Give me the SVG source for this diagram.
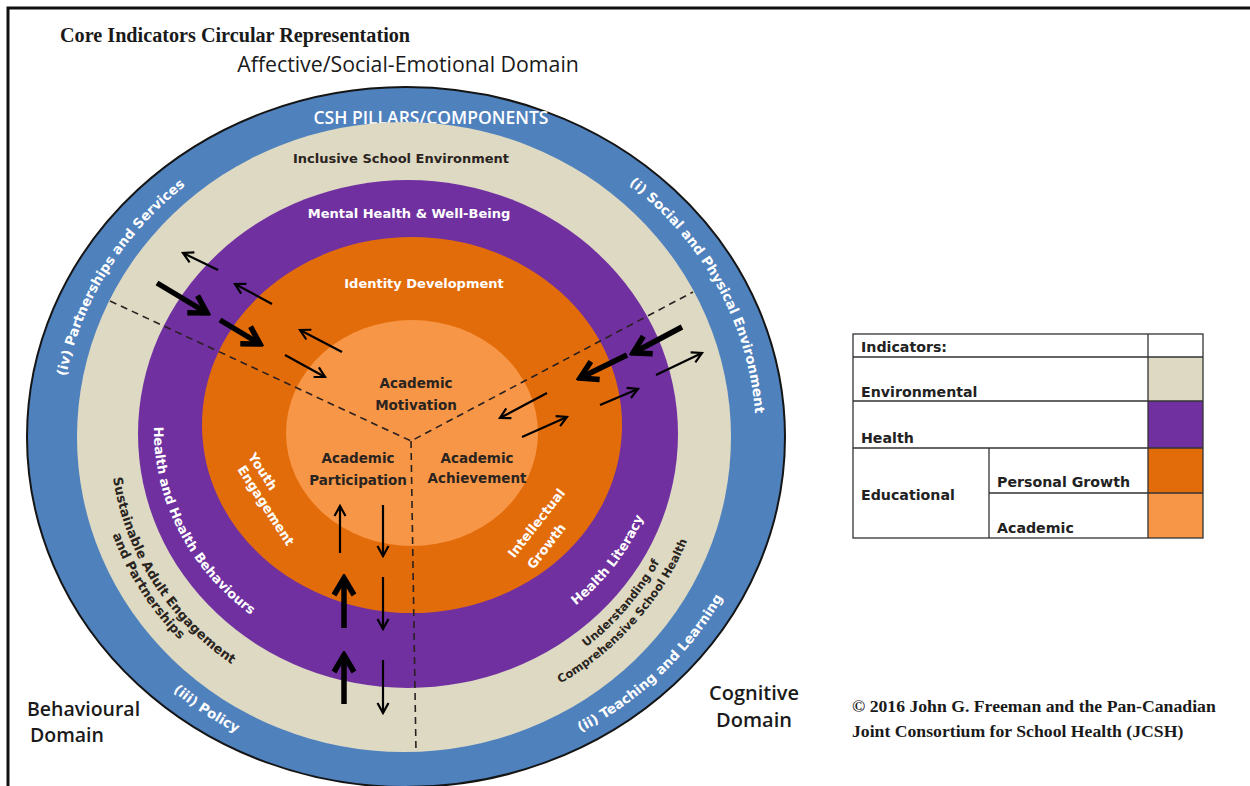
<svg xmlns="http://www.w3.org/2000/svg" width="1250" height="786" viewBox="0 0 1250 786">
<style>
.g{font-family:"DejaVu Sans","Open Sans",sans-serif;font-weight:700}
.w{fill:#fff}
.d{fill:#2a2420}
.t{font-family:"Liberation Serif","Times New Roman",serif;font-weight:700;fill:#1a1a1a}
.o{font-family:"Open Sans","DejaVu Sans",sans-serif;fill:#1a1a1a}
.dash{fill:none;stroke:#2a2020;stroke-width:1.6;stroke-dasharray:7 5}
.thin{fill:none;stroke:#000;stroke-width:2.2;marker-end:url(#ah)}
.thick{fill:none;stroke:#000;stroke-width:5.5;marker-end:url(#ahb)}
.lg{font-family:"DejaVu Sans","Open Sans",sans-serif;font-weight:700;font-size:14.2px;fill:#222}
</style>
<defs>
<marker id="ah" viewBox="0 0 14 14" refX="12" refY="7" markerWidth="14" markerHeight="14" orient="auto" markerUnits="userSpaceOnUse"><path d="M2,1.5 L12,7 L2,12.5" fill="none" stroke="#000" stroke-width="2.2"/></marker>
<marker id="ahb" viewBox="0 0 26 26" refX="22" refY="13" markerWidth="26" markerHeight="26" orient="auto" markerUnits="userSpaceOnUse"><path d="M5,3 L22,13 L5,23" fill="none" stroke="#000" stroke-width="5.5"/></marker>
<path id="pIV" d="M65.3,493.8 A348,327 0 0,1 289.0,129.7"/>
<path id="pI" d="M544.0,136.0 A348,327 0 0,1 747.1,510.6"/>
<path id="pIII" d="M114.7,630.3 A358,337 0 0,0 315.3,762.5"/>
<path id="pII" d="M500.7,762.5 A358,337 0 0,0 755.4,518.5"/>
<path id="pU1" d="M508.5,689.9 A286,272 0 0,0 688.5,478.5"/>
<path id="pU2" d="M484.2,714.2 A303,289 0 0,0 706.9,461.1"/>
<path id="pS1" d="M111.1,411.4 A294,280 0 0,0 290.4,695.6"/>
<path id="pS2" d="M96.2,410.1 A310,296 0 0,0 284.5,709.4"/>
<path id="pHB" d="M162.7,368.9 A256,236 0 0,0 301.8,643.9"/>
<path id="pHL" d="M516.5,641.2 A252,233 0 0,0 661.0,450.3"/>
</defs>
<rect width="1250" height="786" fill="#fff"/>
<path d="M8,786 V8 H1250" fill="none" stroke="#111" stroke-width="3"/>
<text x="60" y="42" class="t" font-size="20.2">Core Indicators Circular Representation</text>
<text x="408" y="72" class="o" font-size="21.3" text-anchor="middle">Affective/Social-Emotional Domain</text>

<g id="ring-pillars">
<ellipse cx="406" cy="437" rx="379" ry="350" fill="#4f81bd" stroke="#151515" stroke-width="2"/>
<text x="431" y="124" font-family="Open Sans,DejaVu Sans,sans-serif" font-weight="600" class="w" font-size="17.5" text-anchor="middle">CSH PILLARS/COMPONENTS</text>
<text class="g w" font-size="13.5"><textPath href="#pIV" startOffset="50%" text-anchor="middle">(iv) Partnerships and Services</textPath></text>
<text class="g w" font-size="13.5"><textPath href="#pI" startOffset="50%" text-anchor="middle">(i) Social and Physical Environment</textPath></text>
<text class="g w" font-size="13.5"><textPath href="#pIII" startOffset="50%" text-anchor="middle">(iii) Policy</textPath></text>
<text class="g w" font-size="13.5"><textPath href="#pII" startOffset="50%" text-anchor="middle">(ii) Teaching and Learning</textPath></text>
</g>
<g id="ring-environmental">
<ellipse cx="404" cy="437" rx="327" ry="315" fill="#ddd9c3"/>
<text x="401" y="163" class="g d" font-size="13" text-anchor="middle">Inclusive School Environment</text>
<text class="g d" font-size="11.5"><textPath href="#pU1" startOffset="50%" text-anchor="middle">Understanding of</textPath></text>
<text class="g d" font-size="11.5"><textPath href="#pU2" startOffset="50%" text-anchor="middle">Comprehensive School Health</textPath></text>
<text class="g d" font-size="13"><textPath href="#pS1" startOffset="50%" text-anchor="middle">Sustainable Adult Engagement</textPath></text>
<text class="g d" font-size="13"><textPath href="#pS2" startOffset="50%" text-anchor="middle">and Partnerships</textPath></text>
</g>
<g id="ring-health">
<ellipse cx="408" cy="434" rx="270" ry="254" fill="#7030a0"/>
<text x="409" y="218" class="g w" font-size="13" text-anchor="middle">Mental Health &amp; Well-Being</text>
<text class="g w" font-size="13"><textPath href="#pHB" startOffset="50%" text-anchor="middle">Health and Health Behaviours</textPath></text>
<text class="g w" font-size="13"><textPath href="#pHL" startOffset="50%" text-anchor="middle">Health Literacy</textPath></text>
</g>
<g id="ring-personal-growth">
<ellipse cx="412" cy="425" rx="210" ry="188" fill="#e36c0a"/>
<text x="424" y="288" class="g w" font-size="13" text-anchor="middle">Identity Development</text>
<text class="g w" font-size="13" text-anchor="middle" transform="translate(259,474) rotate(57)">Youth</text>
<text class="g w" font-size="13" text-anchor="middle" transform="translate(262,508) rotate(57)">Engagement</text>
<text class="g w" font-size="13" text-anchor="middle" transform="translate(540,526) rotate(-52)">Intellectual</text>
<text class="g w" font-size="13" text-anchor="middle" transform="translate(550,549) rotate(-52)">Growth</text>
</g>
<g id="core-academic">
<ellipse cx="412" cy="433" rx="126" ry="113" fill="#f79646"/>
<text class="g d" font-size="13.5" text-anchor="middle"><tspan x="416" y="388">Academic</tspan><tspan x="416" y="410">Motivation</tspan></text>
<text class="g d" font-size="13.5" text-anchor="middle"><tspan x="358" y="463">Academic</tspan><tspan x="358" y="485">Participation</tspan></text>
<text class="g d" font-size="13.5" text-anchor="middle"><tspan x="477" y="463">Academic</tspan><tspan x="477" y="483">Achievement</tspan></text>
</g>
<g id="dividers">
<path class="dash" d="M110,301 L411,441 L693,292 M411,441 L416,752"/>
</g>
<g id="connectors">
<path class="thin" d="M218,270 L183,253"/>
<path class="thick" d="M157,283 L207,313"/>
<path class="thin" d="M272,304 L235,284"/>
<path class="thick" d="M220,320 L260,344"/>
<path class="thin" d="M342,352 L300,330"/>
<path class="thin" d="M285,355 L325,377"/>
<path class="thick" d="M682,327 L633,353"/>
<path class="thick" d="M627,355 L580,378"/>
<path class="thin" d="M656,375 L702,353"/>
<path class="thin" d="M600,405 L638,389"/>
<path class="thin" d="M547,393 L500,418"/>
<path class="thin" d="M522,437 L567,417"/>
<path class="thin" d="M340,553 L340,506"/>
<path class="thin" d="M383,505 L383,556"/>
<path class="thick" d="M344,628 L344,578"/>
<path class="thin" d="M383,577 L383,629"/>
<path class="thick" d="M344,704 L344,655"/>
<path class="thin" d="M383,660 L383,713"/>
</g>
<g id="domains">
<text class="o" font-weight="600" font-size="19.5"><tspan x="27" y="716">Behavioural</tspan><tspan x="30" y="742">Domain</tspan></text>
<text class="o" font-weight="600" font-size="20" text-anchor="middle"><tspan x="754" y="700">Cognitive</tspan><tspan x="754" y="727">Domain</tspan></text>
</g>
<g id="legend">
<rect x="853" y="334" width="350" height="204" fill="#fff"/>
<rect x="1148" y="357" width="55" height="44" fill="#ddd9c3"/>
<rect x="1148" y="401" width="55" height="47" fill="#7030a0"/>
<rect x="1148" y="448" width="55" height="45" fill="#e36c0a"/>
<rect x="1148" y="493" width="55" height="45" fill="#f79646"/>
<g fill="none" stroke="#333" stroke-width="1.3">
<rect x="853" y="334" width="350" height="204"/>
<path d="M1148,334 V538 M853,357 H1203 M853,401 H1203 M853,448 H1203 M989,448 V538 M989,493 H1203"/>
</g>
<text class="lg" x="861" y="352">Indicators:</text>
<text class="lg" x="861" y="397">Environmental</text>
<text class="lg" x="861" y="443">Health</text>
<text class="lg" x="861" y="500">Educational</text>
<text class="lg" x="997" y="487">Personal Growth</text>
<text class="lg" x="997" y="533">Academic</text>
</g>
<g id="copyright">
<text class="t" font-size="17.7"><tspan x="852" y="712">© 2016 John G. Freeman and the Pan-Canadian</tspan><tspan x="852" y="737">Joint Consortium for School Health (JCSH)</tspan></text>
</g>
</svg>
